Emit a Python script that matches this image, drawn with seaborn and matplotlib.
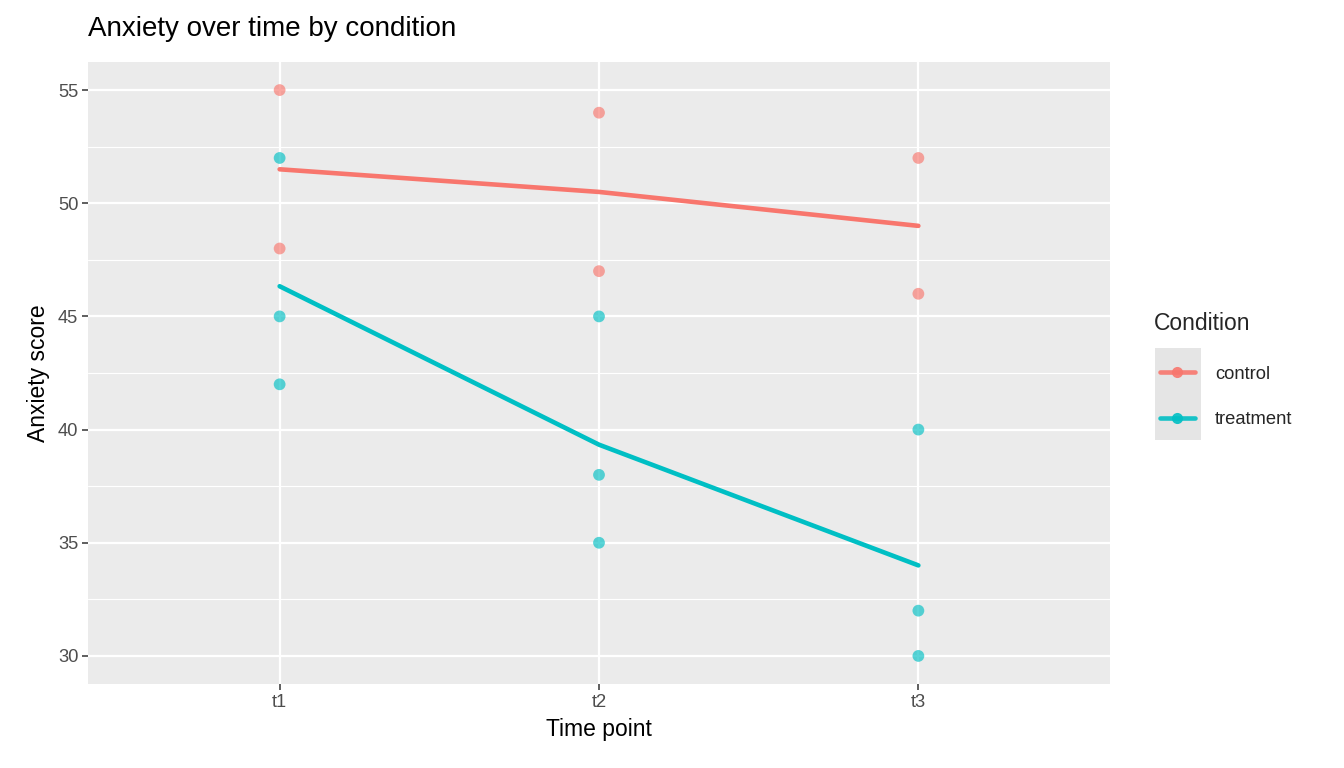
import matplotlib
matplotlib.use("Agg")
import matplotlib.pyplot as plt
import seaborn as sns
import pandas as pd
from matplotlib.lines import Line2D
from matplotlib.patches import Rectangle

# ---- data ----
time_points = ["t1", "t2", "t3"]
conditions = ["control", "treatment"]
control_t1 = [55, 48]
control_t2 = [54, 47]
control_t3 = [52, 46]
treatment_t1 = [52, 45, 42]
treatment_t2 = [45, 38, 35]
treatment_t3 = [40, 32, 30]
colors = {"control": "#F8766D", "treatment": "#00BFC4"}

rows = []
for cond, groups in [("control", [control_t1, control_t2, control_t3]),
                     ("treatment", [treatment_t1, treatment_t2, treatment_t3])]:
    for tp, vals in zip(time_points, groups):
        for v in vals:
            rows.append({"time": tp, "condition": cond, "anxiety": v})
df = pd.DataFrame(rows)
df["x"] = df["time"].map({t: i for i, t in enumerate(time_points)})

sns.set_theme(style="darkgrid", rc={
    "axes.facecolor": "#EBEBEB",
    "grid.color": "white",
    "figure.facecolor": "white",
})
plt.rcParams["font.family"] = ["Liberation Sans", "DejaVu Sans"]

fig = plt.figure(figsize=(13.44, 7.68), dpi=100)
ax = fig.add_axes([88 / 1344, 1 - 684 / 768, (1110 - 88) / 1344, (684 - 62) / 768])

sns.scatterplot(data=df, x="x", y="anxiety", hue="condition", palette=colors,
                hue_order=conditions, s=72, alpha=0.65, edgecolor="none",
                legend=False, ax=ax, zorder=3)
sns.lineplot(data=df, x="x", y="anxiety", hue="condition", palette=colors,
             hue_order=conditions, estimator="mean", errorbar=None,
             linewidth=3.3, legend=False, ax=ax, zorder=4)

ax.set_xlim(-0.6, 2.6)
ax.set_ylim(28.76, 56.24)
ax.set_xticks(range(len(time_points)))
ax.set_xticklabels(time_points)
ax.set_yticks([30, 35, 40, 45, 50, 55])
ax.set_yticks([32.5, 37.5, 42.5, 47.5, 52.5], minor=True)
ax.grid(which="major", color="white", linewidth=1.6)
ax.grid(which="minor", axis="y", color="white", linewidth=0.8)
for s in ax.spines.values():
    s.set_visible(False)
ax.tick_params(axis="both", which="major", length=4, width=1.1, color="#333333",
               labelsize=13.2, labelcolor="#4D4D4D", pad=3,
               bottom=True, left=True)
ax.tick_params(axis="y", which="minor", length=0, left=False)
ax.set_xlabel("Time point", fontsize=16.5, color="black", labelpad=5)
ax.set_ylabel("Anxiety score", fontsize=16.5, color="black", labelpad=6)

fig.text(88 / 1344, 1 - 29 / 768, "Anxiety over time by condition",
         fontsize=20, ha="left", va="center", color="black")

# legend
fig.add_artist(Rectangle((1155 / 1344, 1 - 440 / 768), 46 / 1344, 92 / 768,
                         transform=fig.transFigure, facecolor="#E5E5E5",
                         edgecolor="none", zorder=0))
handles = [Line2D([0], [0], color=colors[c], linewidth=3.3, marker="o",
                  markersize=8, markeredgecolor="none")
           for c in conditions]
leg = fig.legend(handles, conditions, title="Condition", loc="upper left",
                 bbox_to_anchor=(1160 / 1344, 1 - 312 / 768), frameon=False,
                 fontsize=13.2, title_fontsize=16.5, handlelength=1.9,
                 handletextpad=1.1, labelspacing=1.55, borderaxespad=0,
                 borderpad=0)
leg._legend_box.align = "left"
leg._legend_box.sep = 22
leg.get_title().set_position((-6, 0))
for h in leg.legend_handles:
    h.set_markerfacecolor(h.get_color())
    h.set_alpha(0.9)

fig.savefig("out.png", dpi=100)
